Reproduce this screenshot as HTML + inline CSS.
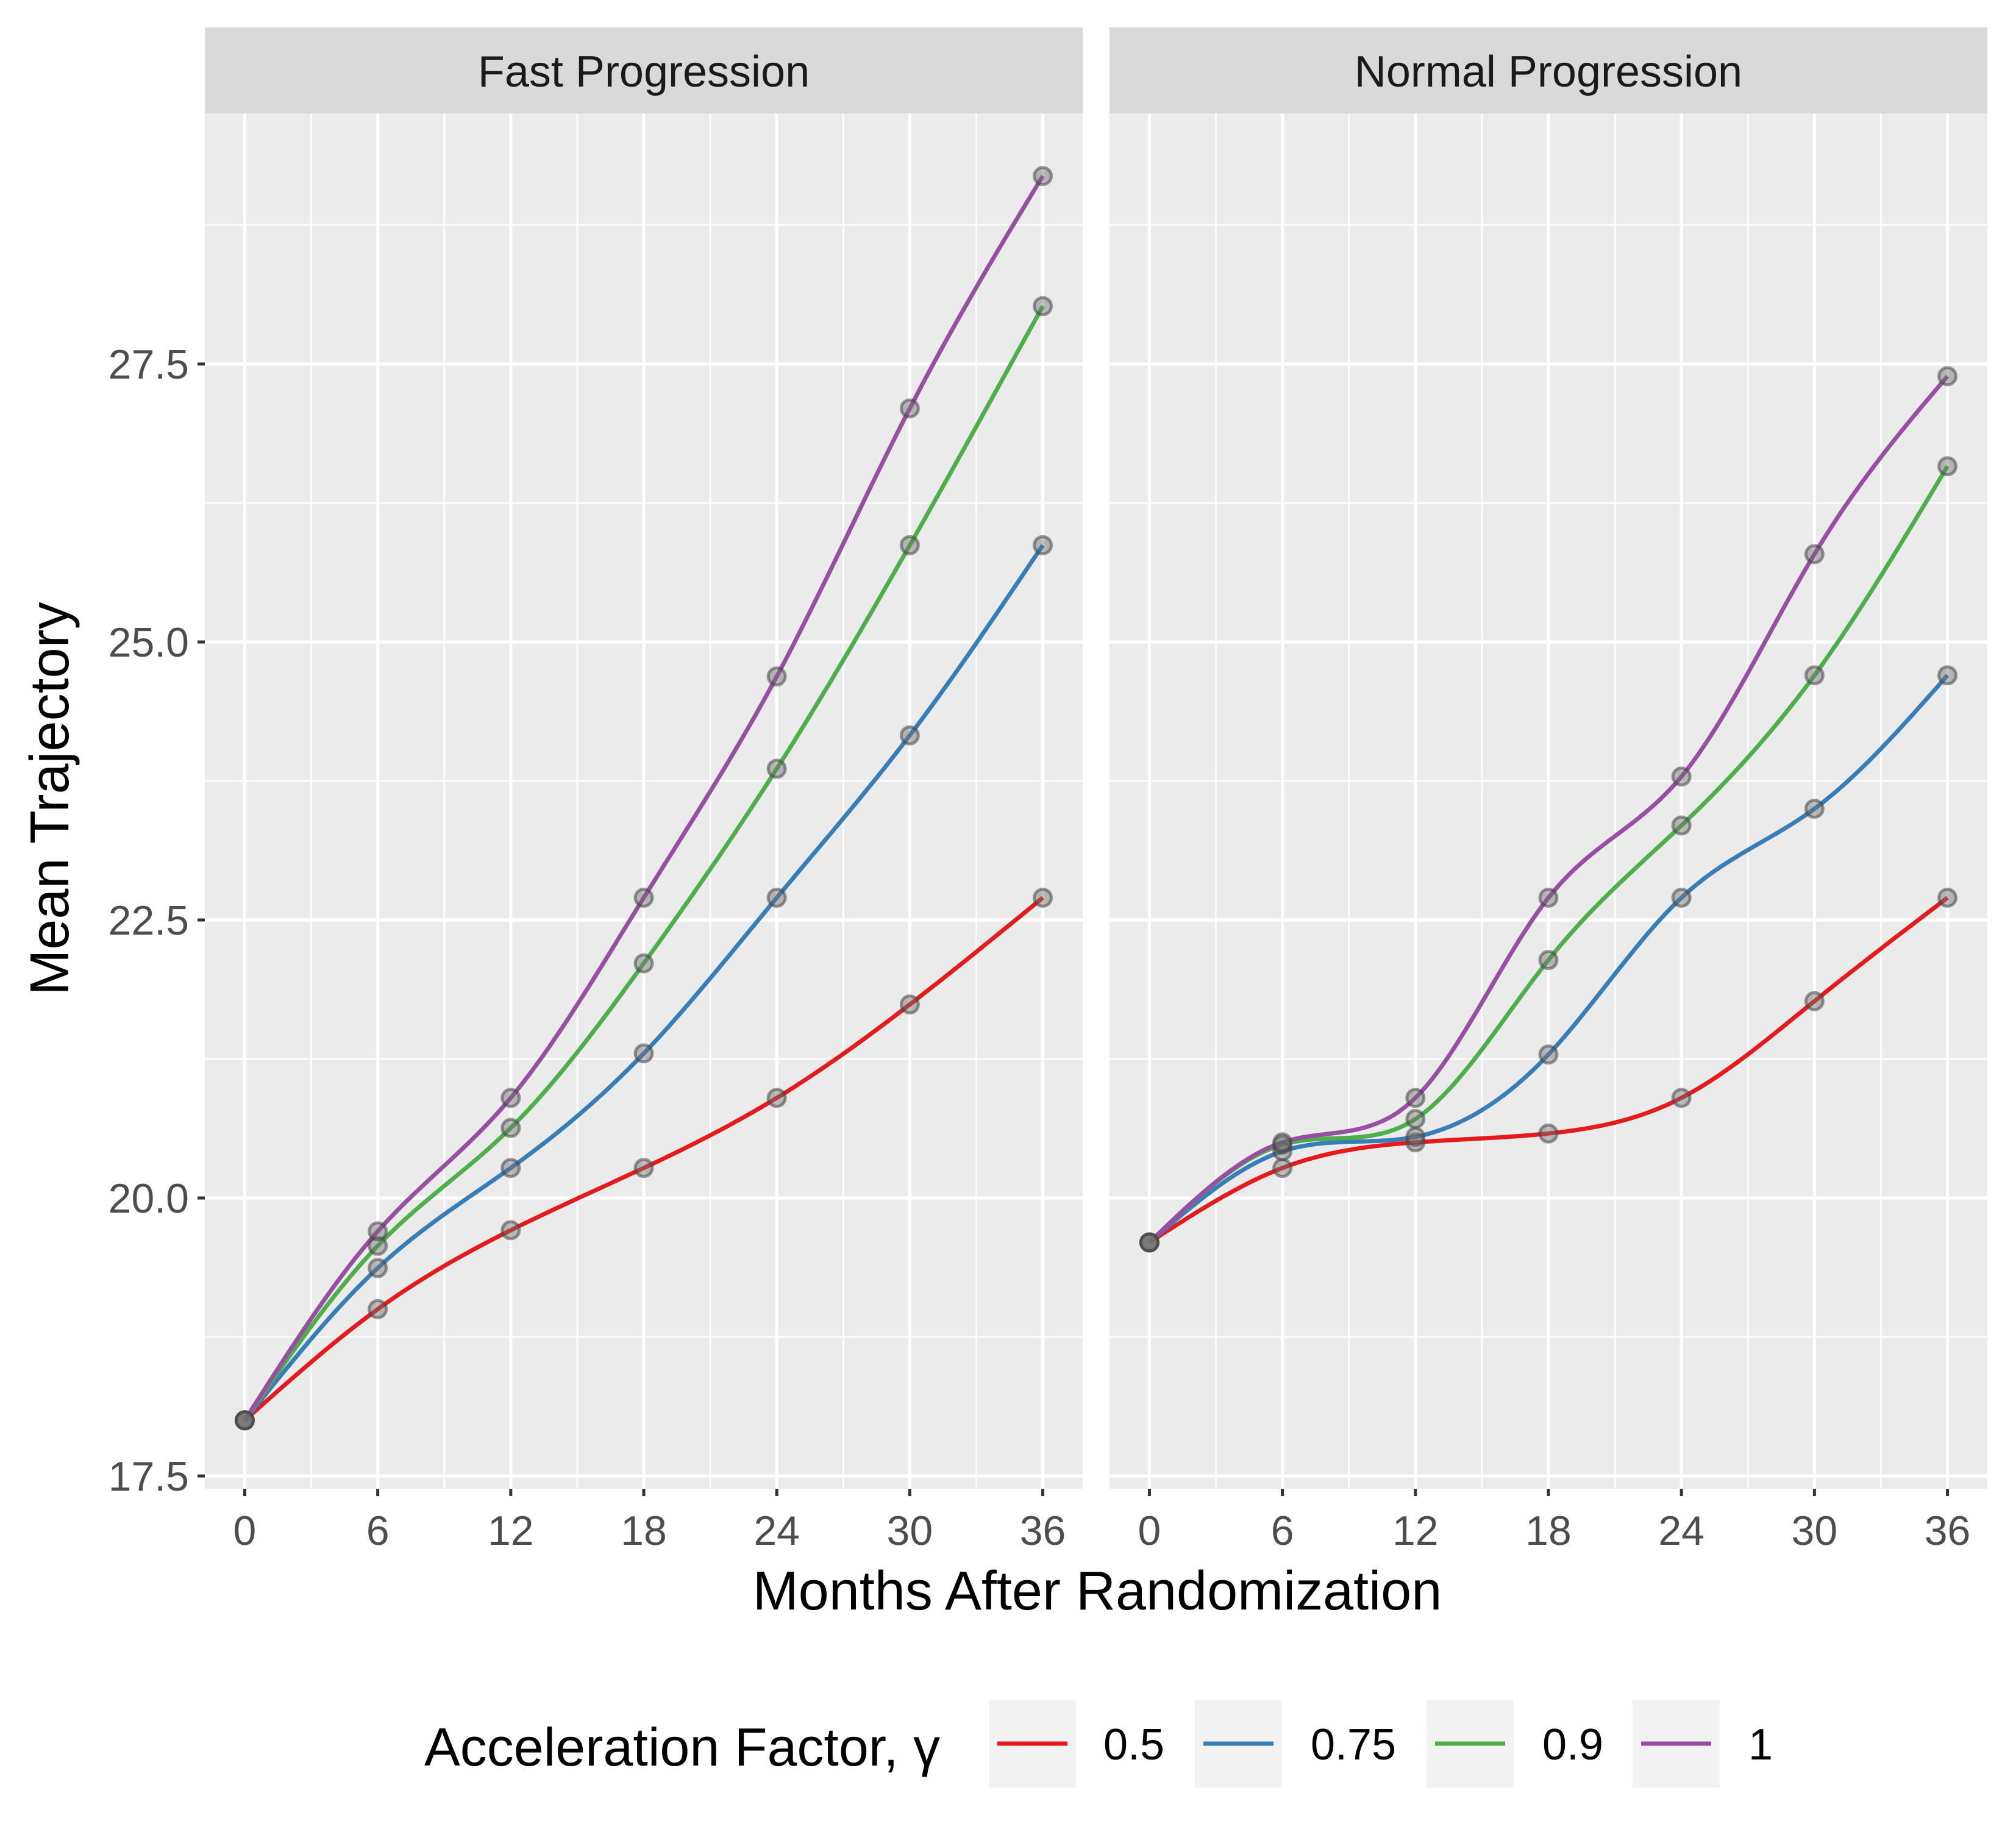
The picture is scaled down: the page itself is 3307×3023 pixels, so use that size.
<!DOCTYPE html>
<html><head><meta charset="utf-8"><style>
html,body{margin:0;padding:0;background:#fff}
svg{display:block;font-family:"Liberation Sans",sans-serif}
</style></head><body>
<svg id="chart" width="3307" height="3023" viewBox="0 0 3307 3023" xmlns="http://www.w3.org/2000/svg"></svg>
<script>
const months = [0, 6, 12, 18, 24, 30, 36];
const gammaLabels = ["0.5", "0.75", "0.9", "1"];
const colors = ["#E41A1C", "#377EB8", "#4DAF4A", "#984EA3"];
const panelTitles = ["Fast Progression", "Normal Progression"];
const fast05 = [18, 19.0, 19.71, 20.27, 20.9, 21.74, 22.7];
const fast075 = [18, 19.37, 20.27, 21.3, 22.7, 24.16, 25.87];
const fast09 = [18, 19.57, 20.63, 22.11, 23.86, 25.87, 28.02];
const fast1 = [18, 19.7, 20.9, 22.7, 24.69, 27.1, 29.19];
const norm05 = [19.6, 20.27, 20.5, 20.58, 20.9, 21.77, 22.7];
const norm075 = [19.6, 20.42, 20.55, 21.29, 22.7, 23.5, 24.7];
const norm09 = [19.6, 20.48, 20.71, 22.14, 23.35, 24.7, 26.58];
const norm1 = [19.6, 20.5, 20.9, 22.7, 23.79, 25.79, 27.39];
const yTicks = [17.5, 20, 22.5, 25, 27.5];
const yTickLabels = ["17.5", "20.0", "22.5", "25.0", "27.5"];
const yMinor = [18.75, 21.25, 23.75, 26.25, 28.75];
const xMinor = [3, 9, 15, 21, 27, 33];

const panelsData = [[fast05, fast075, fast09, fast1], [norm05, norm075, norm09, norm1]];
const NS = "http://www.w3.org/2000/svg";
const svg = document.getElementById("chart");
function mk(tag, attrs, parent) {
  const e = document.createElementNS(NS, tag);
  for (const k in attrs) e.setAttribute(k, attrs[k]);
  (parent || svg).appendChild(e);
  return e;
}
const panelLefts = [336, 1820];
const panelW = 1440, panelTop = 186, panelBottom = 2442;
const stripTop = 45;
function yS(v) { return 2421 + (v - 17.5) * (597 - 2421) / 10; }
function xS(p, m) { const l = panelLefts[p]; return l + panelW * (m + 1.8) / 39.6; }

function spline(xs, ys) {
  const n = xs.length, h = [], al = [], l = [1], mu = [0], z = [0], c = new Array(n).fill(0), b = [], d = [];
  for (let i = 0; i < n - 1; i++) h.push(xs[i + 1] - xs[i]);
  for (let i = 1; i < n - 1; i++) al[i] = 3 / h[i] * (ys[i + 1] - ys[i]) - 3 / h[i - 1] * (ys[i] - ys[i - 1]);
  for (let i = 1; i < n - 1; i++) { l[i] = 2 * (xs[i + 1] - xs[i - 1]) - h[i - 1] * mu[i - 1]; mu[i] = h[i] / l[i]; z[i] = (al[i] - h[i - 1] * z[i - 1]) / l[i]; }
  z[n - 1] = 0;
  for (let j = n - 2; j >= 0; j--) { c[j] = z[j] - mu[j] * c[j + 1]; b[j] = (ys[j + 1] - ys[j]) / h[j] - h[j] * (c[j + 1] + 2 * c[j]) / 3; d[j] = (c[j + 1] - c[j]) / (3 * h[j]); }
  return function (x) { let j = Math.min(n - 2, Math.max(0, xs.findIndex((v, i) => i < n - 1 && x <= xs[i + 1]))); const t = x - xs[j]; return ys[j] + b[j] * t + c[j] * t * t + d[j] * t * t * t; };
}

for (let p = 0; p < 2; p++) {
  const L = panelLefts[p];
  const g = mk("g", {});
  
  
  mk("rect", { x: L, y: stripTop, width: panelW, height: panelTop - stripTop, fill: "#D9D9D9" }, g);
  const st = mk("text", { x: L + panelW / 2, y: 142, "text-anchor": "middle", "font-size": 72, fill: "#1A1A1A" }, g);
  st.textContent = panelTitles[p];
  
  
  mk("rect", { x: L, y: panelTop, width: panelW, height: panelBottom - panelTop, fill: "#EBEBEB" }, g);
  yMinor.forEach(v => mk("line", { x1: L, x2: L + panelW, y1: yS(v), y2: yS(v), stroke: "#fff", "stroke-width": 2.6 }, g));
  xMinor.forEach(v => mk("line", { x1: xS(p, v), x2: xS(p, v), y1: panelTop, y2: panelBottom, stroke: "#fff", "stroke-width": 2.6 }, g));
  yTicks.forEach(v => mk("line", { x1: L, x2: L + panelW, y1: yS(v), y2: yS(v), stroke: "#fff", "stroke-width": 5.2 }, g));
  months.forEach(v => mk("line", { x1: xS(p, v), x2: xS(p, v), y1: panelTop, y2: panelBottom, stroke: "#fff", "stroke-width": 5.2 }, g));
  months.forEach(v => {
    mk("line", { x1: xS(p, v), x2: xS(p, v), y1: panelBottom, y2: panelBottom + 12, stroke: "#333", "stroke-width": 5 }, g);
    const t = mk("text", { x: xS(p, v), y: 2534, "text-anchor": "middle", "font-size": 68, fill: "#4D4D4D" }, g);
    t.textContent = v;
    
    
  });
  if (p === 0) {
    yTicks.forEach((v, i) => {
      mk("line", { x1: L - 12, x2: L, y1: yS(v), y2: yS(v), stroke: "#333", "stroke-width": 5 }, g);
      const t = mk("text", { x: L - 26, y: yS(v) + 24, "text-anchor": "end", "font-size": 68, fill: "#4D4D4D" }, g);
      t.textContent = yTickLabels[i];
      
      
    });
  }
  panelsData[p].forEach((ser, si) => {
    const f = spline(months, ser);
    let d = "";
    for (let m = 0; m <= 36; m += 0.25) d += (m === 0 ? "M" : "L") + xS(p, m).toFixed(1) + "," + yS(f(m)).toFixed(1);
    const path = mk("path", { d: d, fill: "none", stroke: colors[si], "stroke-width": 7 }, g);
    
    
  });
  panelsData[p].forEach((ser, si) => {
    ser.forEach((v, i) => {
      const c = mk("circle", { cx: xS(p, months[i]), cy: yS(v), r: 14, fill: "rgba(110,110,110,0.45)", stroke: "rgba(70,70,70,0.55)", "stroke-width": 5 }, g);
      
      
    });
  });
}
const xt = mk("text", { x: 1800, y: 2640, "text-anchor": "middle", "font-size": 90, fill: "#000" });
xt.textContent = "Months After Randomization";


const yt = mk("text", { x: 0, y: 0, "text-anchor": "middle", "font-size": 90, fill: "#000", transform: "translate(112,1310) rotate(-90)" });
yt.textContent = "Mean Trajectory";


const lt = mk("text", { x: 696, y: 2896, "font-size": 88, fill: "#000" });
lt.textContent = "Acceleration Factor, γ";


const keyX = [1622, 1960, 2340, 2678];
const labX = [1810, 2150, 2530, 2868];
gammaLabels.forEach((lab, i) => {
  const g = mk("g", {});
  
  
  mk("rect", { x: keyX[i], y: 2788, width: 143, height: 144, fill: "#F2F2F2" }, g);
  mk("line", { x1: keyX[i] + 14, x2: keyX[i] + 129, y1: 2860, y2: 2860, stroke: colors[i], "stroke-width": 7 }, g);
  const t = mk("text", { x: labX[i], y: 2886, "font-size": 72, fill: "#000" }, g);
  t.textContent = lab;
});
</script>
</body></html>
